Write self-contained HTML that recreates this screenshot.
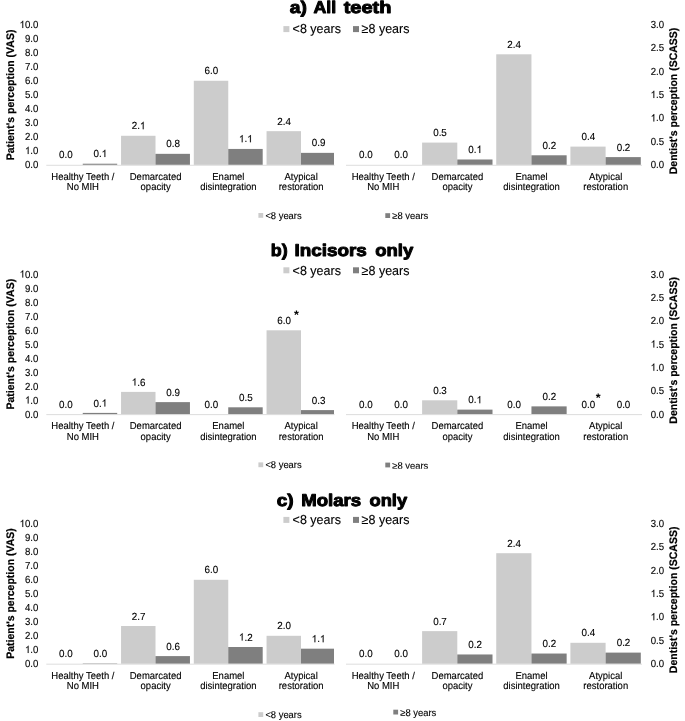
<!DOCTYPE html>
<html><head><meta charset="utf-8"><title>chart</title>
<style>
html,body{margin:0;padding:0;background:#fff;}
body{width:685px;height:721px;overflow:hidden;}
svg{display:block;will-change:transform;opacity:0.999;text-rendering:geometricPrecision;font-family:"Liberation Sans",sans-serif;fill:#000000;}
text{stroke:#000;stroke-width:0.12px;}
.one{fill:#000;stroke:#000;stroke-width:25px;}
.ax{font-size:9.65px;}
.cat{font-size:9.5px;text-anchor:middle;}
.dl{font-size:9.85px;text-anchor:middle;}
.leg{font-size:12.5px;}
.leg2{font-size:9.4px;}
.yt{font-size:10.5px;font-weight:bold;text-anchor:middle;fill:#000;stroke-width:0.2px;}
.ttl{font-size:16px;font-weight:bold;text-anchor:start;fill:#000;stroke:#000;stroke-width:0.9px;stroke-linejoin:round;}
.star{font-size:12.5px;font-weight:bold;stroke-width:0;text-anchor:middle;fill:#000;}
</style></head><body>
<svg width="685" height="721" viewBox="0 0 685 721">
<rect x="0" y="0" width="685" height="721" fill="#fff"/>
<!-- chart 0 -->
<text class="ttl" transform="translate(289.70 12.90) scale(1 1.06)" textLength="17.1" lengthAdjust="spacingAndGlyphs">a)</text>
<text class="ttl" transform="translate(313.50 12.90) scale(1 1.06)" textLength="22.7" lengthAdjust="spacingAndGlyphs">All</text>
<text class="ttl" transform="translate(343.70 12.90) scale(1 1.06)" textLength="47.8" lengthAdjust="spacingAndGlyphs">teeth</text>
<rect x="283.4" y="26.10" width="6" height="6" fill="#cccccc"/>
<text class="leg" transform="translate(292.60 33.40) scale(1 1.040)">&lt;8 years</text>
<rect x="353.0" y="26.10" width="6" height="6" fill="#7f7f7f"/>
<text class="leg" transform="translate(361.60 33.40) scale(1 1.040)">&#8805;8 years</text>
<text class="ax" transform="translate(38.40 168.10) scale(1 1.060)" text-anchor="end">0.0</text>
<g transform="translate(24.98 154.10) scale(1 1.060)"><path class="one" transform="translate(0.00 0) scale(0.00471 -0.00471)" d="M583 0H763V1466H647C600 1350 430 1180 223 1100V930C360 980 500 1070 583 1150Z"/><text class="ax" style="text-anchor:start" x="5.37" y="0">.0</text></g>
<text class="ax" transform="translate(38.40 140.10) scale(1 1.060)" text-anchor="end">2.0</text>
<text class="ax" transform="translate(38.40 126.10) scale(1 1.060)" text-anchor="end">3.0</text>
<text class="ax" transform="translate(38.40 112.10) scale(1 1.060)" text-anchor="end">4.0</text>
<text class="ax" transform="translate(38.40 98.10) scale(1 1.060)" text-anchor="end">5.0</text>
<text class="ax" transform="translate(38.40 84.10) scale(1 1.060)" text-anchor="end">6.0</text>
<text class="ax" transform="translate(38.40 70.10) scale(1 1.060)" text-anchor="end">7.0</text>
<text class="ax" transform="translate(38.40 56.10) scale(1 1.060)" text-anchor="end">8.0</text>
<text class="ax" transform="translate(38.40 42.10) scale(1 1.060)" text-anchor="end">9.0</text>
<g transform="translate(19.61 28.10) scale(1 1.060)"><path class="one" transform="translate(0.00 0) scale(0.00471 -0.00471)" d="M583 0H763V1466H647C600 1350 430 1180 223 1100V930C360 980 500 1070 583 1150Z"/><text class="ax" style="text-anchor:start" x="5.37" y="0">0.0</text></g>
<text class="ax" transform="translate(664.10 168.10) scale(1 1.060)" text-anchor="end">0.0</text>
<text class="ax" transform="translate(664.10 144.77) scale(1 1.060)" text-anchor="end">0.5</text>
<g transform="translate(650.68 121.43) scale(1 1.060)"><path class="one" transform="translate(0.00 0) scale(0.00471 -0.00471)" d="M583 0H763V1466H647C600 1350 430 1180 223 1100V930C360 980 500 1070 583 1150Z"/><text class="ax" style="text-anchor:start" x="5.37" y="0">.0</text></g>
<g transform="translate(650.68 98.10) scale(1 1.060)"><path class="one" transform="translate(0.00 0) scale(0.00471 -0.00471)" d="M583 0H763V1466H647C600 1350 430 1180 223 1100V930C360 980 500 1070 583 1150Z"/><text class="ax" style="text-anchor:start" x="5.37" y="0">.5</text></g>
<text class="ax" transform="translate(664.10 74.77) scale(1 1.060)" text-anchor="end">2.0</text>
<text class="ax" transform="translate(664.10 51.43) scale(1 1.060)" text-anchor="end">2.5</text>
<text class="ax" transform="translate(664.10 28.10) scale(1 1.060)" text-anchor="end">3.0</text>
<text class="yt" transform="translate(13.7,94.90) rotate(-90) scale(1 1.04)">Patient's perception (VAS)</text>
<text class="yt" transform="translate(677.0,101.00) rotate(-90) scale(1 1.04)">Dentist's perception (SCASS)</text>
<text class="dl" transform="translate(65.83 158.30) scale(1 1.040)">0.0</text>
<rect x="82.75" y="163.71" width="34.45" height="1.19" fill="#7f7f7f"/>
<g transform="translate(93.43 157.11) scale(1 1.040)"><text class="dl" style="text-anchor:start" x="0.00" y="0">0.</text><path class="one" transform="translate(8.22 0) scale(0.00481 -0.00481)" d="M583 0H763V1466H647C600 1350 430 1180 223 1100V930C360 980 500 1070 583 1150Z"/></g>
<rect x="121.05" y="135.78" width="34.45" height="29.12" fill="#cccccc"/>
<g transform="translate(131.73 129.18) scale(1 1.040)"><text class="dl" style="text-anchor:start" x="0.00" y="0">2.</text><path class="one" transform="translate(8.22 0) scale(0.00481 -0.00481)" d="M583 0H763V1466H647C600 1350 430 1180 223 1100V930C360 980 500 1070 583 1150Z"/></g>
<rect x="155.50" y="153.84" width="34.45" height="11.06" fill="#7f7f7f"/>
<text class="dl" transform="translate(173.03 147.24) scale(1 1.040)">0.8</text>
<rect x="193.80" y="80.76" width="34.45" height="84.14" fill="#cccccc"/>
<text class="dl" transform="translate(211.33 74.16) scale(1 1.040)">6.0</text>
<rect x="228.25" y="148.94" width="34.45" height="15.96" fill="#7f7f7f"/>
<g transform="translate(238.93 142.34) scale(1 1.040)"><path class="one" transform="translate(0.00 0) scale(0.00481 -0.00481)" d="M583 0H763V1466H647C600 1350 430 1180 223 1100V930C360 980 500 1070 583 1150Z"/><text class="dl" style="text-anchor:start" x="5.48" y="0">.</text><path class="one" transform="translate(8.22 0) scale(0.00481 -0.00481)" d="M583 0H763V1466H647C600 1350 430 1180 223 1100V930C360 980 500 1070 583 1150Z"/></g>
<rect x="266.55" y="131.16" width="34.45" height="33.74" fill="#cccccc"/>
<text class="dl" transform="translate(284.08 124.56) scale(1 1.040)">2.4</text>
<rect x="301.00" y="152.86" width="33.00" height="12.04" fill="#7f7f7f"/>
<text class="dl" transform="translate(318.53 146.26) scale(1 1.040)">0.9</text>
<rect x="46.30" y="164.80" width="288.20" height="0.9" fill="#d9d9d9"/>
<text class="cat" transform="translate(82.88 179.50) scale(1 1.060)">Healthy Teeth /</text>
<text class="cat" transform="translate(82.88 190.00) scale(1 1.060)">No MIH</text>
<text class="cat" transform="translate(155.62 179.50) scale(1 1.060)">Demarcated</text>
<text class="cat" transform="translate(155.62 190.00) scale(1 1.060)">opacity</text>
<text class="cat" transform="translate(228.38 179.50) scale(1 1.060)">Enamel</text>
<text class="cat" transform="translate(228.38 190.00) scale(1 1.060)">disintegration</text>
<text class="cat" transform="translate(301.12 179.50) scale(1 1.060)">Atypical</text>
<text class="cat" transform="translate(301.12 190.00) scale(1 1.060)">restoration</text>
<text class="dl" transform="translate(365.85 158.30) scale(1 1.040)">0.0</text>
<text class="dl" transform="translate(401.05 158.30) scale(1 1.040)">0.0</text>
<rect x="422.10" y="142.59" width="35.20" height="22.31" fill="#cccccc"/>
<text class="dl" transform="translate(440.00 135.99) scale(1 1.040)">0.5</text>
<rect x="457.30" y="159.49" width="35.20" height="5.41" fill="#7f7f7f"/>
<g transform="translate(468.35 152.89) scale(1 1.040)"><text class="dl" style="text-anchor:start" x="0.00" y="0">0.</text><path class="one" transform="translate(8.22 0) scale(0.00481 -0.00481)" d="M583 0H763V1466H647C600 1350 430 1180 223 1100V930C360 980 500 1070 583 1150Z"/></g>
<rect x="496.25" y="54.30" width="35.20" height="110.60" fill="#cccccc"/>
<text class="dl" transform="translate(514.15 47.70) scale(1 1.040)">2.4</text>
<rect x="531.45" y="155.29" width="35.20" height="9.61" fill="#7f7f7f"/>
<text class="dl" transform="translate(549.35 148.69) scale(1 1.040)">0.2</text>
<rect x="570.40" y="146.61" width="35.20" height="18.29" fill="#cccccc"/>
<text class="dl" transform="translate(588.30 140.01) scale(1 1.040)">0.4</text>
<rect x="605.60" y="157.11" width="35.20" height="7.79" fill="#7f7f7f"/>
<text class="dl" transform="translate(623.50 150.51) scale(1 1.040)">0.2</text>
<rect x="346.00" y="164.80" width="296.00" height="0.9" fill="#d9d9d9"/>
<text class="cat" transform="translate(383.27 179.50) scale(1 1.060)">Healthy Teeth /</text>
<text class="cat" transform="translate(383.27 190.00) scale(1 1.060)">No MIH</text>
<text class="cat" transform="translate(457.43 179.50) scale(1 1.060)">Demarcated</text>
<text class="cat" transform="translate(457.43 190.00) scale(1 1.060)">opacity</text>
<text class="cat" transform="translate(531.58 179.50) scale(1 1.060)">Enamel</text>
<text class="cat" transform="translate(531.58 190.00) scale(1 1.060)">disintegration</text>
<text class="cat" transform="translate(605.73 179.50) scale(1 1.060)">Atypical</text>
<text class="cat" transform="translate(605.73 190.00) scale(1 1.060)">restoration</text>
<rect x="258.40" y="213.00" width="4.8" height="4.8" fill="#cccccc"/>
<text class="leg2" transform="translate(265.40 218.60) scale(1 1.040)">&lt;8 years</text>
<rect x="385.30" y="213.20" width="4.8" height="4.8" fill="#7f7f7f"/>
<text class="leg2" transform="translate(392.30 219.20) scale(1 1.040)">&#8805;8 years</text>
<rect x="391.30" y="219.35" width="42" height="4" fill="#fff"/>
<!-- chart 1 -->
<text class="ttl" transform="translate(270.70 256.30) scale(1 1.06)" textLength="16.9" lengthAdjust="spacingAndGlyphs">b)</text>
<text class="ttl" transform="translate(294.40 256.30) scale(1 1.06)" textLength="72.4" lengthAdjust="spacingAndGlyphs">Incisors</text>
<text class="ttl" transform="translate(375.20 256.30) scale(1 1.06)" textLength="38.0" lengthAdjust="spacingAndGlyphs">only</text>
<rect x="283.4" y="267.30" width="6" height="6" fill="#cccccc"/>
<text class="leg" transform="translate(292.60 274.60) scale(1 1.040)">&lt;8 years</text>
<rect x="353.0" y="267.30" width="6" height="6" fill="#7f7f7f"/>
<text class="leg" transform="translate(361.60 274.60) scale(1 1.040)">&#8805;8 years</text>
<text class="ax" transform="translate(38.40 417.50) scale(1 1.060)" text-anchor="end">0.0</text>
<g transform="translate(24.98 403.50) scale(1 1.060)"><path class="one" transform="translate(0.00 0) scale(0.00471 -0.00471)" d="M583 0H763V1466H647C600 1350 430 1180 223 1100V930C360 980 500 1070 583 1150Z"/><text class="ax" style="text-anchor:start" x="5.37" y="0">.0</text></g>
<text class="ax" transform="translate(38.40 389.50) scale(1 1.060)" text-anchor="end">2.0</text>
<text class="ax" transform="translate(38.40 375.50) scale(1 1.060)" text-anchor="end">3.0</text>
<text class="ax" transform="translate(38.40 361.50) scale(1 1.060)" text-anchor="end">4.0</text>
<text class="ax" transform="translate(38.40 347.50) scale(1 1.060)" text-anchor="end">5.0</text>
<text class="ax" transform="translate(38.40 333.50) scale(1 1.060)" text-anchor="end">6.0</text>
<text class="ax" transform="translate(38.40 319.50) scale(1 1.060)" text-anchor="end">7.0</text>
<text class="ax" transform="translate(38.40 305.50) scale(1 1.060)" text-anchor="end">8.0</text>
<text class="ax" transform="translate(38.40 291.50) scale(1 1.060)" text-anchor="end">9.0</text>
<g transform="translate(19.61 277.50) scale(1 1.060)"><path class="one" transform="translate(0.00 0) scale(0.00471 -0.00471)" d="M583 0H763V1466H647C600 1350 430 1180 223 1100V930C360 980 500 1070 583 1150Z"/><text class="ax" style="text-anchor:start" x="5.37" y="0">0.0</text></g>
<text class="ax" transform="translate(664.10 417.50) scale(1 1.060)" text-anchor="end">0.0</text>
<text class="ax" transform="translate(664.10 394.17) scale(1 1.060)" text-anchor="end">0.5</text>
<g transform="translate(650.68 370.83) scale(1 1.060)"><path class="one" transform="translate(0.00 0) scale(0.00471 -0.00471)" d="M583 0H763V1466H647C600 1350 430 1180 223 1100V930C360 980 500 1070 583 1150Z"/><text class="ax" style="text-anchor:start" x="5.37" y="0">.0</text></g>
<g transform="translate(650.68 347.50) scale(1 1.060)"><path class="one" transform="translate(0.00 0) scale(0.00471 -0.00471)" d="M583 0H763V1466H647C600 1350 430 1180 223 1100V930C360 980 500 1070 583 1150Z"/><text class="ax" style="text-anchor:start" x="5.37" y="0">.5</text></g>
<text class="ax" transform="translate(664.10 324.17) scale(1 1.060)" text-anchor="end">2.0</text>
<text class="ax" transform="translate(664.10 300.83) scale(1 1.060)" text-anchor="end">2.5</text>
<text class="ax" transform="translate(664.10 277.50) scale(1 1.060)" text-anchor="end">3.0</text>
<text class="yt" transform="translate(13.7,344.20) rotate(-90) scale(1 1.04)">Patient's perception (VAS)</text>
<text class="yt" transform="translate(677.0,350.40) rotate(-90) scale(1 1.04)">Dentist's perception (SCASS)</text>
<text class="dl" transform="translate(65.83 407.95) scale(1 1.040)">0.0</text>
<rect x="82.75" y="412.90" width="34.45" height="1.40" fill="#7f7f7f"/>
<g transform="translate(93.43 406.55) scale(1 1.040)"><text class="dl" style="text-anchor:start" x="0.00" y="0">0.</text><path class="one" transform="translate(8.22 0) scale(0.00481 -0.00481)" d="M583 0H763V1466H647C600 1350 430 1180 223 1100V930C360 980 500 1070 583 1150Z"/></g>
<rect x="121.05" y="391.90" width="34.45" height="22.40" fill="#cccccc"/>
<g transform="translate(131.73 385.55) scale(1 1.040)"><path class="one" transform="translate(0.00 0) scale(0.00481 -0.00481)" d="M583 0H763V1466H647C600 1350 430 1180 223 1100V930C360 980 500 1070 583 1150Z"/><text class="dl" style="text-anchor:start" x="5.48" y="0">.6</text></g>
<rect x="155.50" y="402.12" width="34.45" height="12.18" fill="#7f7f7f"/>
<text class="dl" transform="translate(173.03 395.77) scale(1 1.040)">0.9</text>
<text class="dl" transform="translate(211.33 407.95) scale(1 1.040)">0.0</text>
<rect x="228.25" y="407.30" width="34.45" height="7.00" fill="#7f7f7f"/>
<text class="dl" transform="translate(245.78 400.95) scale(1 1.040)">0.5</text>
<rect x="266.55" y="330.30" width="34.45" height="84.00" fill="#cccccc"/>
<text class="dl" transform="translate(284.08 323.95) scale(1 1.040)">6.0</text>
<rect x="301.00" y="410.10" width="33.00" height="4.20" fill="#7f7f7f"/>
<text class="dl" transform="translate(318.53 403.75) scale(1 1.040)">0.3</text>
<rect x="46.30" y="414.20" width="288.20" height="0.9" fill="#d9d9d9"/>
<text class="cat" transform="translate(82.88 429.15) scale(1 1.060)">Healthy Teeth /</text>
<text class="cat" transform="translate(82.88 439.65) scale(1 1.060)">No MIH</text>
<text class="cat" transform="translate(155.62 429.15) scale(1 1.060)">Demarcated</text>
<text class="cat" transform="translate(155.62 439.65) scale(1 1.060)">opacity</text>
<text class="cat" transform="translate(228.38 429.15) scale(1 1.060)">Enamel</text>
<text class="cat" transform="translate(228.38 439.65) scale(1 1.060)">disintegration</text>
<text class="cat" transform="translate(301.12 429.15) scale(1 1.060)">Atypical</text>
<text class="cat" transform="translate(301.12 439.65) scale(1 1.060)">restoration</text>
<text class="dl" transform="translate(365.85 407.95) scale(1 1.040)">0.0</text>
<text class="dl" transform="translate(401.05 407.95) scale(1 1.040)">0.0</text>
<rect x="422.10" y="400.30" width="35.20" height="14.00" fill="#cccccc"/>
<text class="dl" transform="translate(440.00 393.95) scale(1 1.040)">0.3</text>
<rect x="457.30" y="409.63" width="35.20" height="4.67" fill="#7f7f7f"/>
<g transform="translate(468.35 403.28) scale(1 1.040)"><text class="dl" style="text-anchor:start" x="0.00" y="0">0.</text><path class="one" transform="translate(8.22 0) scale(0.00481 -0.00481)" d="M583 0H763V1466H647C600 1350 430 1180 223 1100V930C360 980 500 1070 583 1150Z"/></g>
<text class="dl" transform="translate(514.15 407.95) scale(1 1.040)">0.0</text>
<rect x="531.45" y="406.37" width="35.20" height="7.93" fill="#7f7f7f"/>
<text class="dl" transform="translate(549.35 400.02) scale(1 1.040)">0.2</text>
<text class="dl" transform="translate(588.30 407.95) scale(1 1.040)">0.0</text>
<text class="dl" transform="translate(623.50 407.95) scale(1 1.040)">0.0</text>
<rect x="346.00" y="414.20" width="296.00" height="0.9" fill="#d9d9d9"/>
<text class="cat" transform="translate(383.27 429.15) scale(1 1.060)">Healthy Teeth /</text>
<text class="cat" transform="translate(383.27 439.65) scale(1 1.060)">No MIH</text>
<text class="cat" transform="translate(457.43 429.15) scale(1 1.060)">Demarcated</text>
<text class="cat" transform="translate(457.43 439.65) scale(1 1.060)">opacity</text>
<text class="cat" transform="translate(531.58 429.15) scale(1 1.060)">Enamel</text>
<text class="cat" transform="translate(531.58 439.65) scale(1 1.060)">disintegration</text>
<text class="cat" transform="translate(605.73 429.15) scale(1 1.060)">Atypical</text>
<text class="cat" transform="translate(605.73 439.65) scale(1 1.060)">restoration</text>
<text class="star" x="296.50" y="318.50">*</text>
<text class="star" x="598.10" y="401.80">*</text>
<rect x="258.40" y="462.40" width="4.8" height="4.8" fill="#cccccc"/>
<text class="leg2" transform="translate(265.40 468.00) scale(1 1.040)">&lt;8 years</text>
<rect x="385.30" y="462.60" width="4.8" height="4.8" fill="#7f7f7f"/>
<text class="leg2" transform="translate(392.30 468.60) scale(1 1.040)">&#8805;8 years</text>
<rect x="391.30" y="468.75" width="42" height="4" fill="#fff"/>
<!-- chart 2 -->
<text class="ttl" transform="translate(276.80 505.90) scale(1 1.06)" textLength="16.9" lengthAdjust="spacingAndGlyphs">c)</text>
<text class="ttl" transform="translate(301.20 505.90) scale(1 1.06)" textLength="60.0" lengthAdjust="spacingAndGlyphs">Molars</text>
<text class="ttl" transform="translate(369.50 505.90) scale(1 1.06)" textLength="37.6" lengthAdjust="spacingAndGlyphs">only</text>
<rect x="283.4" y="516.90" width="6" height="6" fill="#cccccc"/>
<text class="leg" transform="translate(292.60 524.20) scale(1 1.040)">&lt;8 years</text>
<rect x="353.0" y="516.90" width="6" height="6" fill="#7f7f7f"/>
<text class="leg" transform="translate(361.60 524.20) scale(1 1.040)">&#8805;8 years</text>
<text class="ax" transform="translate(38.40 667.00) scale(1 1.060)" text-anchor="end">0.0</text>
<g transform="translate(24.98 653.00) scale(1 1.060)"><path class="one" transform="translate(0.00 0) scale(0.00471 -0.00471)" d="M583 0H763V1466H647C600 1350 430 1180 223 1100V930C360 980 500 1070 583 1150Z"/><text class="ax" style="text-anchor:start" x="5.37" y="0">.0</text></g>
<text class="ax" transform="translate(38.40 639.00) scale(1 1.060)" text-anchor="end">2.0</text>
<text class="ax" transform="translate(38.40 625.00) scale(1 1.060)" text-anchor="end">3.0</text>
<text class="ax" transform="translate(38.40 611.00) scale(1 1.060)" text-anchor="end">4.0</text>
<text class="ax" transform="translate(38.40 597.00) scale(1 1.060)" text-anchor="end">5.0</text>
<text class="ax" transform="translate(38.40 583.00) scale(1 1.060)" text-anchor="end">6.0</text>
<text class="ax" transform="translate(38.40 569.00) scale(1 1.060)" text-anchor="end">7.0</text>
<text class="ax" transform="translate(38.40 555.00) scale(1 1.060)" text-anchor="end">8.0</text>
<text class="ax" transform="translate(38.40 541.00) scale(1 1.060)" text-anchor="end">9.0</text>
<g transform="translate(19.61 527.00) scale(1 1.060)"><path class="one" transform="translate(0.00 0) scale(0.00471 -0.00471)" d="M583 0H763V1466H647C600 1350 430 1180 223 1100V930C360 980 500 1070 583 1150Z"/><text class="ax" style="text-anchor:start" x="5.37" y="0">0.0</text></g>
<text class="ax" transform="translate(664.10 667.00) scale(1 1.060)" text-anchor="end">0.0</text>
<text class="ax" transform="translate(664.10 643.67) scale(1 1.060)" text-anchor="end">0.5</text>
<g transform="translate(650.68 620.33) scale(1 1.060)"><path class="one" transform="translate(0.00 0) scale(0.00471 -0.00471)" d="M583 0H763V1466H647C600 1350 430 1180 223 1100V930C360 980 500 1070 583 1150Z"/><text class="ax" style="text-anchor:start" x="5.37" y="0">.0</text></g>
<g transform="translate(650.68 597.00) scale(1 1.060)"><path class="one" transform="translate(0.00 0) scale(0.00471 -0.00471)" d="M583 0H763V1466H647C600 1350 430 1180 223 1100V930C360 980 500 1070 583 1150Z"/><text class="ax" style="text-anchor:start" x="5.37" y="0">.5</text></g>
<text class="ax" transform="translate(664.10 573.67) scale(1 1.060)" text-anchor="end">2.0</text>
<text class="ax" transform="translate(664.10 550.33) scale(1 1.060)" text-anchor="end">2.5</text>
<text class="ax" transform="translate(664.10 527.00) scale(1 1.060)" text-anchor="end">3.0</text>
<text class="yt" transform="translate(13.7,593.50) rotate(-90) scale(1 1.04)">Patient's perception (VAS)</text>
<text class="yt" transform="translate(677.0,599.90) rotate(-90) scale(1 1.04)">Dentist's perception (SCASS)</text>
<text class="dl" transform="translate(65.83 657.40) scale(1 1.040)">0.0</text>
<rect x="82.75" y="663.38" width="34.45" height="0.42" fill="#7f7f7f"/>
<text class="dl" transform="translate(100.27 656.98) scale(1 1.040)">0.0</text>
<rect x="121.05" y="626.00" width="34.45" height="37.80" fill="#cccccc"/>
<text class="dl" transform="translate(138.58 619.60) scale(1 1.040)">2.7</text>
<rect x="155.50" y="656.10" width="34.45" height="7.70" fill="#7f7f7f"/>
<text class="dl" transform="translate(173.03 649.70) scale(1 1.040)">0.6</text>
<rect x="193.80" y="579.80" width="34.45" height="84.00" fill="#cccccc"/>
<text class="dl" transform="translate(211.33 573.40) scale(1 1.040)">6.0</text>
<rect x="228.25" y="647.00" width="34.45" height="16.80" fill="#7f7f7f"/>
<g transform="translate(238.93 640.60) scale(1 1.040)"><path class="one" transform="translate(0.00 0) scale(0.00481 -0.00481)" d="M583 0H763V1466H647C600 1350 430 1180 223 1100V930C360 980 500 1070 583 1150Z"/><text class="dl" style="text-anchor:start" x="5.48" y="0">.2</text></g>
<rect x="266.55" y="635.80" width="34.45" height="28.00" fill="#cccccc"/>
<text class="dl" transform="translate(284.08 629.40) scale(1 1.040)">2.0</text>
<rect x="301.00" y="648.68" width="33.00" height="15.12" fill="#7f7f7f"/>
<g transform="translate(311.68 642.28) scale(1 1.040)"><path class="one" transform="translate(0.00 0) scale(0.00481 -0.00481)" d="M583 0H763V1466H647C600 1350 430 1180 223 1100V930C360 980 500 1070 583 1150Z"/><text class="dl" style="text-anchor:start" x="5.48" y="0">.</text><path class="one" transform="translate(8.22 0) scale(0.00481 -0.00481)" d="M583 0H763V1466H647C600 1350 430 1180 223 1100V930C360 980 500 1070 583 1150Z"/></g>
<rect x="46.30" y="663.70" width="288.20" height="0.9" fill="#d9d9d9"/>
<text class="cat" transform="translate(82.88 678.60) scale(1 1.060)">Healthy Teeth /</text>
<text class="cat" transform="translate(82.88 689.10) scale(1 1.060)">No MIH</text>
<text class="cat" transform="translate(155.62 678.60) scale(1 1.060)">Demarcated</text>
<text class="cat" transform="translate(155.62 689.10) scale(1 1.060)">opacity</text>
<text class="cat" transform="translate(228.38 678.60) scale(1 1.060)">Enamel</text>
<text class="cat" transform="translate(228.38 689.10) scale(1 1.060)">disintegration</text>
<text class="cat" transform="translate(301.12 678.60) scale(1 1.060)">Atypical</text>
<text class="cat" transform="translate(301.12 689.10) scale(1 1.060)">restoration</text>
<text class="dl" transform="translate(365.85 657.40) scale(1 1.040)">0.0</text>
<text class="dl" transform="translate(401.05 657.40) scale(1 1.040)">0.0</text>
<rect x="422.10" y="631.13" width="35.20" height="32.67" fill="#cccccc"/>
<text class="dl" transform="translate(440.00 624.73) scale(1 1.040)">0.7</text>
<rect x="457.30" y="654.47" width="35.20" height="9.33" fill="#7f7f7f"/>
<text class="dl" transform="translate(475.20 648.07) scale(1 1.040)">0.2</text>
<rect x="496.25" y="553.20" width="35.20" height="110.60" fill="#cccccc"/>
<text class="dl" transform="translate(514.15 546.80) scale(1 1.040)">2.4</text>
<rect x="531.45" y="653.53" width="35.20" height="10.27" fill="#7f7f7f"/>
<text class="dl" transform="translate(549.35 647.13) scale(1 1.040)">0.2</text>
<rect x="570.40" y="642.80" width="35.20" height="21.00" fill="#cccccc"/>
<text class="dl" transform="translate(588.30 636.40) scale(1 1.040)">0.4</text>
<rect x="605.60" y="652.60" width="35.20" height="11.20" fill="#7f7f7f"/>
<text class="dl" transform="translate(623.50 646.20) scale(1 1.040)">0.2</text>
<rect x="346.00" y="663.70" width="296.00" height="0.9" fill="#d9d9d9"/>
<text class="cat" transform="translate(383.27 678.60) scale(1 1.060)">Healthy Teeth /</text>
<text class="cat" transform="translate(383.27 689.10) scale(1 1.060)">No MIH</text>
<text class="cat" transform="translate(457.43 678.60) scale(1 1.060)">Demarcated</text>
<text class="cat" transform="translate(457.43 689.10) scale(1 1.060)">opacity</text>
<text class="cat" transform="translate(531.58 678.60) scale(1 1.060)">Enamel</text>
<text class="cat" transform="translate(531.58 689.10) scale(1 1.060)">disintegration</text>
<text class="cat" transform="translate(605.73 678.60) scale(1 1.060)">Atypical</text>
<text class="cat" transform="translate(605.73 689.10) scale(1 1.060)">restoration</text>
<rect x="258.40" y="712.20" width="4.8" height="4.8" fill="#cccccc"/>
<text class="leg2" transform="translate(265.40 717.80) scale(1 1.040)">&lt;8 years</text>
<rect x="393.30" y="709.70" width="4.8" height="4.8" fill="#7f7f7f"/>
<text class="leg2" transform="translate(400.30 715.70) scale(1 1.040)">&#8805;8 years</text>
</svg>
</body></html>
